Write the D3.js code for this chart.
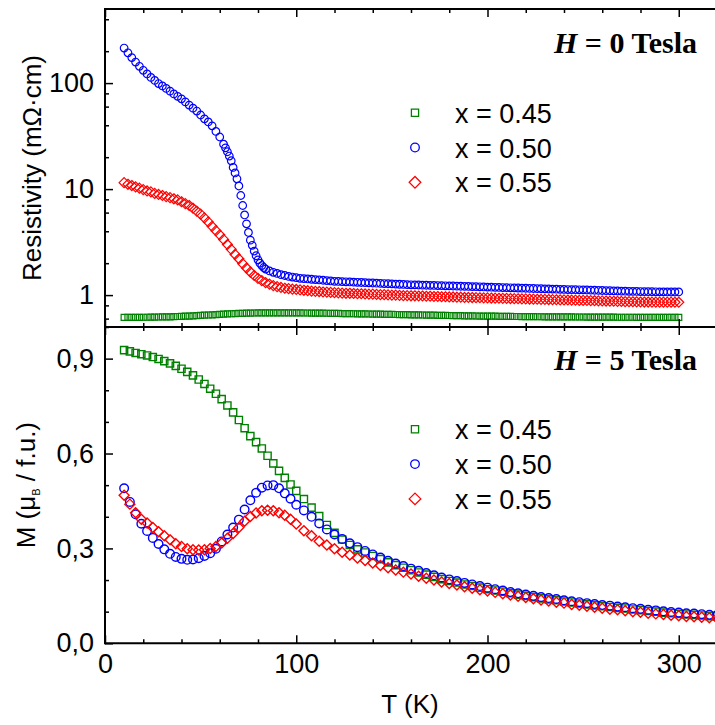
<!DOCTYPE html>
<html>
<head>
<meta charset="utf-8">
<script src="https://cdn.jsdelivr.net/npm/d3@7"></script>
<style>
  body { margin: 0; background: #fff; }
  svg { display: block; }
  .tick text { font-family: "Liberation Sans", Arial, sans-serif; font-size: 27px; fill: #000; }
  .tick line { stroke: #000; stroke-width: 1.5; }
</style>
</head>
<body>
<div class="chart"></div>
<script>
// ---- data ----
const seriesNames = ['x = 0.45', 'x = 0.50', 'x = 0.55'];
const seriesColors = ['#008000', '#0000ff', '#ff0000'];

// top panel: resistivity (mOhm cm), H = 0 T
const tRho = [10,12,14,16,18,20,22,24,26,28,30,32,34,36,38,40,42,44,46,48,50,52,54,56,58,60,62,64,66,68,70,72,74,76,78,80,
  82,84,86,88,90,92,94,96,98,100,102,104,106,108,110,112,114,116,118,120,122,124,126,128,130,132,134,136,138,140,142,144,146,148,150,
  152,154,156,158,160,162,164,166,168,170,172,174,176,178,180,182,184,186,188,190,192,194,196,198,200,202,204,206,208,210,212,214,216,218,220,
  222,224,226,228,230,232,234,236,238,240,242,244,246,248,250,252,254,256,258,260,262,264,266,268,270,272,274,276,278,280,282,284,286,288,290,
  292,294,296,298,300];
const rhoX045 = [.615,.615,.616,.616,.617,.618,.618,.619,.620,.621,.622,.623,.624,.626,.628,.630,
  .632,.634,.637,.640,.643,.646,.649,.652,.655,.658,.661,.664,.667,.669,.671,.673,.675,.677,.678,.679,
  .680,.680,.681,.681,.681,.681,.680,.680,.680,.679,.679,.678,.678,.677,.676,.676,.675,.674,.673,.672,
  .671,.670,.669,.668,.667,.666,.665,.664,.663,.662,.661,.660,.659,.658,.657,.656,.655,.654,.653,.652,
  .651,.650,.649,.648,.647,.646,.645,.644,.643,.642,.641,.640,.639,.638,.637,.636,.635,.634,.634,.633,
  .632,.632,.631,.630,.630,.629,.628,.628,.627,.627,.626,.626,.625,.625,.624,.624,.623,.623,.623,.622,
  .622,.622,.621,.621,.621,.620,.620,.620,.620,.619,.619,.619,.619,.618,.618,.618,.618,.618,.617,.617,
  .617,.617,.617,.617,.616,.616,.616,.616,.616,.616];
const rhoX055 = [11.5,11.1,10.8,10.5,10.2,9.9,9.6,9.4,9.1,8.9,8.7,8.5,8.3,8.1,7.9,7.6,
  7.3,7.0,6.6,6.2,5.8,5.35,4.9,4.45,4.05,3.7,3.35,3.0,2.7,2.42,2.2,1.98,1.8,1.65,1.53,1.44,
  1.37,1.31,1.27,1.23,1.20,1.18,1.16,1.15,1.14,1.13,1.12,1.11,1.10,1.09,1.085,1.08,1.07,1.065,1.06,1.055,
  1.05,1.045,1.04,1.04,1.035,1.03,1.03,1.025,1.02,1.02,1.015,1.01,1.01,1.005,1.0,1.0,.995,.99,.99,.985,
  .985,.98,.98,.975,.975,.97,.97,.965,.965,.96,.96,.955,.955,.95,.95,.948,.946,.944,.942,.94,
  .938,.936,.934,.932,.930,.928,.926,.924,.922,.920,.918,.916,.914,.912,.910,.908,.906,.904,.902,.900,
  .899,.897,.895,.893,.891,.889,.887,.885,.883,.881,.879,.877,.875,.873,.871,.869,.867,.865,.863,.861,
  .860,.860,.859,.859,.858,.858,.857,.857,.856,.856];
const tRhoX050 = [10,12,14,16,18,20,22,24,26,28,30,32,34,36,38,40,42,44,46,48,50,52,54,56,58,60,62,
  63,64,65,66,67,68,69,70,71,72,73,74,75,76,77,78,79,80,81,82,83,84,
  86,88,90,92,94,96,98,100,102,104,106,108,110,112,114,116,118,120,122,124,126,128,130,132,134,136,138,140,142,144,146,148,150,
  152,154,156,158,160,162,164,166,168,170,172,174,176,178,180,182,184,186,188,190,192,194,196,198,200,202,204,206,208,210,212,214,216,218,220,
  222,224,226,228,230,232,234,236,238,240,242,244,246,248,250,252,254,256,258,260,262,264,266,268,270,272,274,276,278,280,282,284,286,288,290,
  292,294,296,298,300];
const rhoX050 = [214,193,174,158,144,132,122,113,106,99,94,89,84,79,75,71,66.5,62,58,54.5,50,46,43,39.5,35,31,26.5,
  24.5,22.5,20.5,18.5,16,14.2,12.5,10.7,8.7,7.0,5.7,4.7,3.9,3.3,2.95,2.6,2.35,2.15,2.0,1.9,1.82,1.76,
  1.69,1.64,1.60,1.56,1.53,1.50,1.48,1.46,
  1.44,1.43,1.42,1.41,1.40,1.39,1.38,1.37,1.36,1.35,
  1.345,1.34,1.335,1.33,1.325,1.32,1.315,1.31,1.305,1.30,1.295,1.29,1.285,1.28,1.275,1.27,1.265,1.26,1.255,1.25,
  1.248,1.245,1.242,1.239,1.236,1.233,1.23,1.227,1.224,1.221,1.218,1.215,1.212,1.209,1.206,1.203,1.2,1.197,1.194,1.19,
  1.187,1.184,1.181,1.178,1.175,1.172,1.169,1.166,1.163,1.16,1.157,1.154,1.151,1.148,1.145,1.142,1.139,1.136,1.133,1.13,
  1.128,1.126,1.124,1.122,1.12,1.117,1.114,1.111,1.108,1.105,1.102,1.099,1.096,1.093,1.09,1.088,1.086,1.084,1.082,1.08,
  1.078,1.076,1.075,1.074,1.073,1.072,1.071,1.07,1.07,1.07];

// bottom panel: magnetisation (mu_B / f.u.), H = 5 T
const tMag = [10,13,16,19,22,25,28,31,34,37,40,43,46,49,52,55,58,61,64,67,70,73,76,79,82,85,88,91,94,97,100,
  104,108,112,116,120,124,128,132,136,140,144,148,152,156,160,164,168,172,176,180,184,188,192,196,200,
  204,208,212,216,220,224,228,232,236,240,244,248,252,256,260,264,268,272,276,280,284,288,292,296,300,
  304,308,312,316,320];
const magX045 = [.927,.923,.918,.914,.910,.905,.899,.892,.885,.877,.868,.858,.847,.834,.820,.805,.789,.772,.752,.730,
  .706,.680,.655,.636,.616,.593,.569,.545,.523,.502,.482,
  .456,.429,.402,.374,.349,.328,.311,.297,.287,.276,
  .266,.256,.247,.239,.231,.224,.217,.210,.203,.197,
  .192,.186,.181,.176,.171,.167,.163,.158,.154,.150,
  .146,.142,.139,.136,.132,.129,.126,.123,.120,.117,
  .115,.112,.110,.107,.105,.102,.100,.097,.095,.093,
  .091,.090,.088,.086,.085];
const magX050 = [.490,.447,.408,.378,.355,.333,.314,.297,.283,.273,.267,.264,.265,.269,.276,.285,.299,.322,.344,.366,
  .391,.423,.452,.476,.492,.499,.500,.490,.474,.457,.438,
  .420,.400,.379,.360,.344,.330,.316,.304,.292,.281,
  .271,.261,.252,.244,.236,.229,.222,.215,.208,.202,
  .197,.191,.186,.181,.176,.171,.167,.162,.158,.154,
  .150,.146,.143,.140,.136,.133,.130,.127,.124,.121,
  .119,.116,.114,.111,.109,.106,.104,.101,.099,.097,
  .095,.094,.092,.090,.089];
const magX055 = [.468,.440,.413,.392,.380,.366,.353,.340,.327,.315,.306,.299,.296,.295,.296,.300,.306,.317,.332,.347,
  .366,.386,.401,.412,.419,.421,.419,.413,.405,.392,.377,
  .356,.340,.323,.311,.299,.288,.279,.270,.262,.254,
  .246,.239,.232,.225,.219,.212,.206,.200,.194,.189,
  .184,.179,.174,.169,.165,.161,.157,.153,.149,.145,
  .141,.137,.134,.130,.127,.123,.120,.117,.114,.111,
  .108,.106,.103,.100,.098,.095,.093,.091,.089,.087,
  .085,.084,.082,.081,.079];

const rhoTicks = [1, 10, 100];
const rhoMinor = [0.6, 0.8, 2, 4, 6, 8, 20, 40, 60, 80, 200, 400];
const magTicks = [0, 0.3, 0.6, 0.9];
const magMinor = [0.1, 0.2, 0.4, 0.5, 0.7, 0.8, 1.0];
const tTicks = [0, 100, 200, 300];
const tMinor = [20, 40, 60, 80, 120, 140, 160, 180, 220, 240, 260, 280, 320];

// ---- layout ----
const width = 715, height = 725;
const pLeft = 105, pRight = 717, pTop = 9, pMid = 327, pBottom = 643.3;

const svg = d3.select('.chart').append('svg')
    .attr('width', width)
    .attr('height', height);

const x = d3.scaleLinear().domain([0, 320]).range([pLeft, pRight]);
const yRho = d3.scaleLog().domain([0.5, 500]).range([pMid, pTop]);
const yMag = d3.scaleLinear().domain([0, 1]).range([pBottom, pMid]);

// marker paths centred on 0,0
function marker(kind, s) {
    if (kind === 'square') return `M${-s},${-s}H${s}V${s}H${-s}Z`;
    if (kind === 'circle') return `M${-s},0A${s},${s} 0 1,0 ${s},0A${s},${s} 0 1,0 ${-s},0Z`;
    return `M0,${-s}L${s},0L0,${s}L${-s},0Z`;
}
const kinds = ['square', 'circle', 'diamond'];

const defs = svg.append('defs');
defs.append('clipPath').attr('id', 'clipTop')
    .append('rect').attr('x', pLeft).attr('y', pTop).attr('width', pRight - pLeft).attr('height', pMid - pTop);
defs.append('clipPath').attr('id', 'clipBot')
    .append('rect').attr('x', pLeft).attr('y', pMid).attr('width', pRight - pLeft).attr('height', pBottom - pMid);

function drawSeries(g, ts, vals, y, kind, size, color, sw) {
    g.append('g')
        .selectAll('path')
        .data(d3.zip(ts, vals))
        .join('path')
        .attr('transform', d => `translate(${x(d[0])},${y(d[1])})`)
        .attr('d', marker(kind, size))
        .attr('fill', 'none')
        .attr('stroke', color)
        .attr('stroke-width', sw);
}

// top panel
const gTop = svg.append('g').attr('clip-path', 'url(#clipTop)');
drawSeries(gTop, tRho, rhoX045, yRho, 'square', 3, seriesColors[0], 1.2);
drawSeries(gTop, tRhoX050, rhoX050, yRho, 'circle', 3.8, seriesColors[1], 1.2);
drawSeries(gTop, tRho, rhoX055, yRho, 'diamond', 5, seriesColors[2], 1.2);

// bottom panel
const gBot = svg.append('g').attr('clip-path', 'url(#clipBot)');
drawSeries(gBot, tMag, magX045, yMag, 'square', 3.6, seriesColors[0], 1.4);
drawSeries(gBot, tMag, magX050, yMag, 'circle', 4.3, seriesColors[1], 1.4);
drawSeries(gBot, tMag, magX055, yMag, 'diamond', 5, seriesColors[2], 1.4);

// axes (inward ticks)
function ax(axis, tx, ty) {
    const g = svg.append('g').attr('transform', `translate(${tx},${ty})`).call(axis);
    g.select('.domain').remove();
    return g;
}
const fmtComma = d => d.toFixed(1).replace('.', ',');

ax(d3.axisLeft(yRho).tickValues(rhoTicks).tickFormat(d3.format('d')).tickSize(-8).tickPadding(11), pLeft, 0);
ax(d3.axisLeft(yRho).tickValues(rhoMinor).tickFormat('').tickSize(-4), pLeft, 0);
ax(d3.axisLeft(yMag).tickValues(magTicks).tickFormat(fmtComma).tickSize(-8).tickPadding(11), pLeft, 0);
ax(d3.axisLeft(yMag).tickValues(magMinor).tickFormat('').tickSize(-4), pLeft, 0);

ax(d3.axisTop(x).tickValues(tTicks).tickFormat('').tickSize(-8), 0, pTop);
ax(d3.axisTop(x).tickValues(tMinor).tickFormat('').tickSize(-4), 0, pTop);
ax(d3.axisBottom(x).tickValues(tTicks).tickFormat('').tickSize(-8), 0, pMid);
ax(d3.axisBottom(x).tickValues(tMinor).tickFormat('').tickSize(-4), 0, pMid);
ax(d3.axisTop(x).tickValues(tTicks).tickFormat('').tickSize(-8), 0, pMid);
ax(d3.axisTop(x).tickValues(tMinor).tickFormat('').tickSize(-4), 0, pMid);
ax(d3.axisBottom(x).tickValues(tTicks).tickFormat(d3.format('d')).tickSize(-8).tickPadding(11), 0, pBottom);
ax(d3.axisBottom(x).tickValues(tMinor).tickFormat('').tickSize(-4), 0, pBottom);

// frame
const frame = svg.append('g').attr('stroke', '#000').attr('stroke-width', 2).attr('fill', 'none');
frame.append('line').attr('x1', pLeft).attr('x2', width).attr('y1', pTop).attr('y2', pTop);
frame.append('line').attr('x1', pLeft).attr('x2', width).attr('y1', pMid).attr('y2', pMid);
frame.append('line').attr('x1', pLeft).attr('x2', width).attr('y1', pBottom).attr('y2', pBottom);
frame.append('line').attr('x1', pLeft).attr('x2', pLeft).attr('y1', pTop - 1).attr('y2', pBottom + 1);

// axis titles
const sans = '"Liberation Sans", Arial, sans-serif';
svg.append('text')
    .attr('transform', `translate(41,${(pTop + pMid) / 2}) rotate(-90)`)
    .attr('text-anchor', 'middle')
    .style('font-family', sans).style('font-size', '26px')
    .text('Resistivity (mΩ·cm)');

const mTitle = svg.append('text')
    .attr('transform', `translate(35,${(pMid + pBottom) / 2}) rotate(-90)`)
    .attr('text-anchor', 'middle')
    .style('font-family', sans).style('font-size', '26px');
mTitle.append('tspan').text('M (μ');
mTitle.append('tspan').attr('dy', 5).style('font-size', '11px').text('B');
mTitle.append('tspan').attr('dy', -5).text(' / f.u.)');

svg.append('text')
    .attr('x', (pLeft + width) / 2).attr('y', 713)
    .attr('text-anchor', 'middle')
    .style('font-family', sans).style('font-size', '26px')
    .text('T (K)');

// panel labels
function panelLabel(y, field) {
    const t = svg.append('text')
        .attr('x', 697).attr('y', y)
        .attr('text-anchor', 'end')
        .style('font-family', '"Liberation Serif", "Times New Roman", serif')
        .style('font-size', '30px').style('font-weight', 'bold');
    t.append('tspan').style('font-style', 'italic').text('H');
    t.append('tspan').text(` = ${field} Tesla`);
}
panelLabel(53, 0);
panelLabel(370, 5);

// legends
function legend(y0) {
    const g = svg.append('g');
    seriesNames.forEach((name, i) => {
        const cy = y0 + i * 34.8;
        g.append('path')
            .attr('transform', `translate(415,${cy - 10})`)
            .attr('d', marker(kinds[i], [3.6, 4.3, 5.8][i]))
            .attr('fill', 'none')
            .attr('stroke', seriesColors[i])
            .attr('stroke-width', 1.3);
        g.append('text')
            .attr('x', 455).attr('y', cy)
            .style('font-family', sans).style('font-size', '27px')
            .text(name);
    });
}
legend(122.7);
legend(439.3);
</script>
</body>
</html>
